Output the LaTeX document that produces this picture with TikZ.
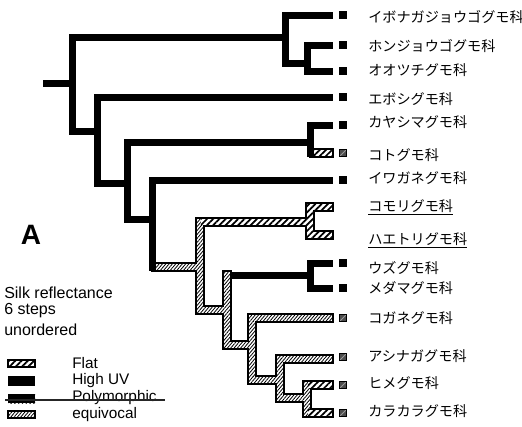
\documentclass[tikz,border=0pt]{standalone}
\usepackage{fontspec}
\setmainfont{Liberation Sans}
\newfontfamily\jpfont{Noto Sans CJK JP}
\usetikzlibrary{patterns.meta}
\tikzset{
  blk/.style={line width=5.25pt, draw=black},
  blkv/.style={blk, line cap=rect},
  flatpat/.style={pattern={Lines[angle=45,distance=3.3pt,line width=1.3pt]}},
  eqvpat/.style={pattern={Lines[angle=50,distance=1.9pt,line width=0.6pt]}},
  hout/.style={draw=black, line width=1.2pt, fill=white},
  bsq/.style={fill=black, minimum size=6pt, inner sep=0pt, outer sep=0pt},
  gsq/.style={fill=black!70, draw=black, line width=0.8pt, minimum size=5.8pt, inner sep=0pt,
    path picture={\draw[white!60!black, line width=0.6pt] (path picture bounding box.south west) -- (path picture bounding box.north east);}},
  lab/.style={anchor=west, inner sep=0pt, font=\jpfont\fontsize{10.6}{12}\selectfont},
  leg/.style={anchor=west, inner sep=0pt, font=\fontsize{11.5}{13}\selectfont},
  silk/.style={anchor=west, inner sep=0pt, font=\fontsize{12}{14}\selectfont},
}
% hatched segments: outline pass and fill pass
\newcommand\hsOut[3]{\path[hout] ([yshift=3pt]#1) rectangle ([yshift=-3pt]#2);}
\newcommand\vsOut[3]{\path[hout] ([shift={(-3pt,3pt)}]#1) rectangle ([shift={(3pt,-3pt)}]#2);}
\newcommand\hsFill[3]{\path[preaction={fill=white}, #3] ([shift={(0.6pt,2.4pt)}]#1) rectangle ([shift={(-0.6pt,-2.4pt)}]#2);}
\newcommand\vsFill[3]{\path[preaction={fill=white}, #3] ([shift={(-2.4pt,2.4pt)}]#1) rectangle ([shift={(2.4pt,-2.4pt)}]#2);}
\newcommand\hatchsegs{%
  \hs{n7b}{n8m}{eqvpat}
  \vs{n8t}{n8b}{eqvpat}
  \hs{n8t}{n9m}{flatpat}
  \vs{n9t}{n9b}{flatpat}
  \hs{n9t}{t8}{flatpat}
  \hs{n9b}{t9}{flatpat}
  \hs{n8b}{n10m}{eqvpat}
  \vs{n10t}{n10b}{eqvpat}
  \hs{n10b}{n12m}{eqvpat}
  \vs{n12t}{n12b}{eqvpat}
  \hs{n12t}{t12}{eqvpat}
  \hs{n12b}{n13m}{eqvpat}
  \vs{n13t}{n13b}{eqvpat}
  \hs{n13t}{t13}{eqvpat}
  \hs{n13b}{n14m}{eqvpat}
  \vs{n14t}{n14b}{eqvpat}
  \hs{n14t}{t14}{flatpat}
  \hs{n14b}{t15}{flatpat}
  \hs{n6b}{t6}{flatpat}
}
\begin{document}
\begin{tikzpicture}[x=0.75pt,y=-0.75pt]
\useasboundingbox (0,0) rectangle (522,426);
% ---- coordinates
\coordinate (r0) at (43,83);
\coordinate (n1m) at (72,83); \coordinate (n1t) at (72,37); \coordinate (n1b) at (72,131);
\coordinate (n2m) at (285,37); \coordinate (n2t) at (285,15); \coordinate (n2b) at (285,63);
\coordinate (n3m) at (307,63); \coordinate (n3t) at (307,45); \coordinate (n3b) at (307,71);
\coordinate (n4m) at (97,131); \coordinate (n4t) at (97,97); \coordinate (n4b) at (97,183);
\coordinate (n5m) at (127,183); \coordinate (n5t) at (127,142); \coordinate (n5b) at (127,219);
\coordinate (n6m) at (310,142); \coordinate (n6t) at (310,125); \coordinate (n6b) at (310,153);
\coordinate (n7m) at (152,219); \coordinate (n7t) at (152,180); \coordinate (n7b) at (152,267);
\coordinate (n8m) at (200,267); \coordinate (n8t) at (200,222); \coordinate (n8b) at (200,310);
\coordinate (n9m) at (310,222); \coordinate (n9t) at (310,207); \coordinate (n9b) at (310,235);
\coordinate (n10m) at (227,310); \coordinate (n10t) at (227,275); \coordinate (n10b) at (227,345);
\coordinate (n11m) at (310,275); \coordinate (n11t) at (310,263); \coordinate (n11b) at (310,288);
\coordinate (n12m) at (252,345); \coordinate (n12t) at (252,318); \coordinate (n12b) at (252,380);
\coordinate (n13m) at (280,380); \coordinate (n13t) at (280,359); \coordinate (n13b) at (280,398);
\coordinate (n14m) at (307,398); \coordinate (n14t) at (307,385); \coordinate (n14b) at (307,413);
\coordinate (t1) at (333,15);  \coordinate (t2) at (333,45);  \coordinate (t3) at (333,71);
\coordinate (t4) at (333,97);  \coordinate (t5) at (333,125); \coordinate (t6) at (333,153);
\coordinate (t7) at (333,180); \coordinate (t8) at (333,207); \coordinate (t9) at (333,235);
\coordinate (t10) at (333,263); \coordinate (t11) at (333,288); \coordinate (t12) at (333,318);
\coordinate (t13) at (333,359); \coordinate (t14) at (333,385); \coordinate (t15) at (333,413);
% ---- hatched branches (two passes)
{\let\hs\hsOut \let\vs\vsOut \hatchsegs}
{\let\hs\hsFill \let\vs\vsFill \hatchsegs}
% ---- black branches
\draw[blk] (r0) -- (n1m);
\draw[blkv] (n1t) -- (n1b);
\draw[blk] (n1t) -- (n2m);
\draw[blkv] (n2t) -- (n2b);
\draw[blk] (n2t) -- (t1);
\draw[blk] (n2b) -- (n3m);
\draw[blkv] (n3t) -- (n3b);
\draw[blk] (n3t) -- (t2);
\draw[blk] (n3b) -- (t3);
\draw[blk] (n1b) -- (n4m);
\draw[blkv] (n4t) -- (n4b);
\draw[blk] (n4t) -- (t4);
\draw[blk] (n4b) -- (n5m);
\draw[blkv] (n5t) -- (n5b);
\draw[blk] (n5t) -- (n6m);
\draw[blkv] (n6t) -- (n6b);
\draw[blk] (n6t) -- (t5);
\draw[blk] (n5b) -- (n7m);
\draw[blkv] (n7t) -- (n7b);
\draw[blk] (n7t) -- (t7);
\draw[blk] ([xshift=3pt]n10t) -- (n11m);
\draw[blkv] (n11t) -- (n11b);
\draw[blk] (n11t) -- (t10);
\draw[blk] (n11b) -- (t11);
% ---- tip squares
\node[bsq] (s1) at (343,15) {};
\node[bsq] (s2) at (343,45) {};
\node[bsq] (s3) at (343,71) {};
\node[bsq] (s4) at (343,97) {};
\node[bsq] (s5) at (343,125) {};
\node[gsq] (s6) at (343,153) {};
\node[bsq] (s7) at (343,180) {};
\node[bsq] (s10) at (343,263) {};
\node[bsq] (s11) at (343,288) {};
\node[gsq] (s12) at (343,318) {};
\node[gsq] (s13) at (343,357) {};
\node[gsq] (s14) at (343,385) {};
\node[gsq] (s15) at (343,413) {};
% ---- taxon labels
\node[lab] (l1) at (368,17) {イボナガジョウゴグモ科};
\node[lab] (l2) at (368,46) {ホンジョウゴグモ科};
\node[lab] (l3) at (368,70) {オオツチグモ科};
\node[lab] (l4) at (368,99) {エボシグモ科};
\node[lab] (l5) at (368,122) {カヤシマグモ科};
\node[lab] (l6) at (368,155) {コトグモ科};
\node[lab] (l7) at (368,178) {イワガネグモ科};
\node[lab] (l8) at (368,207) {\underline{コモリグモ科}};
\node[lab] (l9) at (368,240) {\underline{ハエトリグモ科}};
\node[lab] (l10) at (368,268) {ウズグモ科};
\node[lab] (l11) at (368,288) {メダマグモ科};
\node[lab] (l12) at (368,318) {コガネグモ科};
\node[lab] (l13) at (368,356) {アシナガグモ科};
\node[lab] (l14) at (368,383) {ヒメグモ科};
\node[lab] (l15) at (368,411) {カラカラグモ科};
% ---- legend
\node[font=\bfseries\fontsize{21}{24}\selectfont, inner sep=0pt] (A) at (31,235) {A};
\node[silk] (sk1) at (4,293) {Silk reflectance};
\node[silk] (sk2) at (4,311) {6 steps};
\node[silk] (sk3) at (4,330) {unordered};
\path[draw=black, line width=1.2pt, preaction={fill=white}, flatpat] (8,360) rectangle (35,367);
\fill[black] (8,376) rectangle (35,386);
\path[fill=black, postaction={pattern={Lines[angle=45,distance=2pt,line width=0.5pt],pattern color=black!60}}] (8,394) rectangle (35,403);
\path[draw=black, line width=0.8pt, preaction={fill=white}, eqvpat] (8,411) rectangle (35,418);
\node[leg] (g1) at (72,363) {Flat};
\node[leg] (g2) at (72,381) {High UV};
\node[leg] (g3) at (72,398) {Polymorphic};
\node[leg] (g4) at (72,415) {equivocal};
\coordinate (st0) at (5,400);
\coordinate (st1) at (165,400);
\draw[black!85, line width=1.1pt] (st0) -- (st1);
\end{tikzpicture}
\end{document}
